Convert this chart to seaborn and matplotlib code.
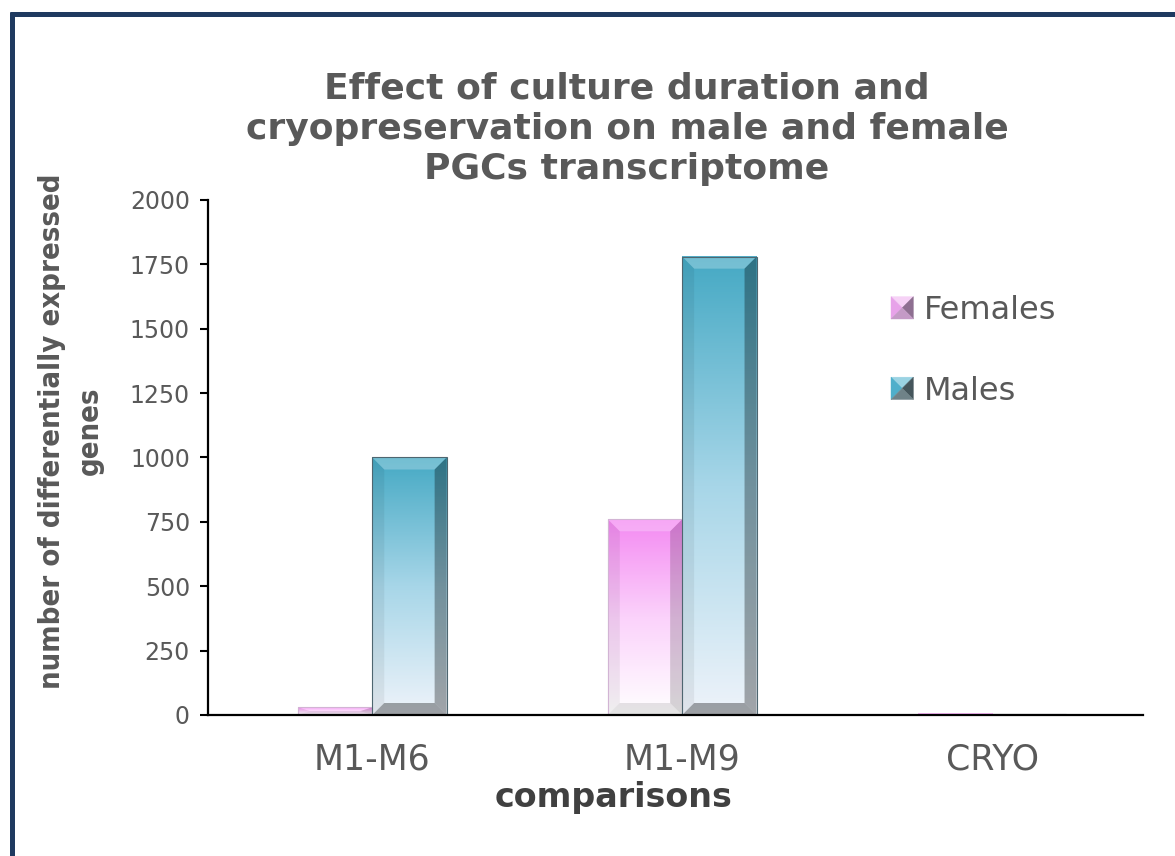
import numpy as np
import pandas as pd
import matplotlib
matplotlib.use("Agg")
import matplotlib.pyplot as plt
import seaborn as sns
from matplotlib import font_manager as fm
from matplotlib.colors import LinearSegmentedColormap
from matplotlib.patches import Polygon, Patch
from matplotlib.lines import Line2D
from matplotlib.legend_handler import HandlerBase

# ---------------- data ----------------
categories = ["M1-M6", "M1-M9", "CRYO"]
series_names = ["Females", "Males"]
females = [30, 760, 4]
males = [1000, 1780, 2]
y_ticks = [0, 250, 500, 750, 1000, 1250, 1500, 1750, 2000]

title = "Effect of culture duration and\ncryopreservation on male and female\nPGCs transcriptome"
y_label = "number of differentially expressed\ngenes"
x_label = "comparisons"

# ---------------- style ----------------
sns.set_theme(style="ticks")
plt.rcParams["font.family"] = ["DejaVu Sans"]

GRAY = "#595959"
NAVY = "#1F3A60"
grad_stops = {
    "Females": ["#FFFFFF", "#FBD2FB", "#F48AF2"],
    "Males": ["#EEF3FA", "#A7D6E8", "#45A9C4"],
}
edge_cols = {"Females": "#D2B4D4", "Males": "#4E6670"}
bottom_alpha = {"Females": 0.10, "Males": 0.34}
right_alpha = {"Females": 0.16, "Males": 0.32}

# condensed font for y label if available
names = {(f.name, f.stretch) for f in fm.fontManager.ttflist}
if any(n == "Liberation Sans Narrow" for n, _ in names):
    ylab_kw = dict(family="Liberation Sans Narrow", fontsize=25)
elif any(n == "DejaVu Sans" and s in ("condensed", "semi-condensed", 300, 400) for n, s in names):
    ylab_kw = dict(family="DejaVu Sans", stretch="condensed", fontsize=21)
else:
    ylab_kw = dict(family="Liberation Sans", fontsize=22)

W, H = 1175, 856
fig = plt.figure(figsize=(W / 100, H / 100), dpi=100)
fig.patch.set_facecolor("white")
ax = fig.add_axes([208 / W, 1 - 715 / H, 935 / W, 515 / H])

df = pd.DataFrame({
    "comparison": categories * 2,
    "genes": females + males,
    "sex": ["Females"] * len(categories) + ["Males"] * len(categories),
})

sns.barplot(data=df, x="comparison", y="genes", hue="sex", order=categories,
            hue_order=series_names, palette=["#F48AF2", "#45A9C4"], width=0.48,
            saturation=1, legend=False, ax=ax, linewidth=0, err_kws={"linewidth": 0})

XLIM = (-0.53, 2.487)
YLIM = (0, 2000)
ax.set_xlim(*XLIM)
ax.set_ylim(*YLIM)

# pixel scale for bevels
px_x = 935 / (XLIM[1] - XLIM[0])
px_y = 515 / (YLIM[1] - YLIM[0])
bev = 12.0

for cont, name in zip(ax.containers, series_names):
    cmap = LinearSegmentedColormap.from_list(name, grad_stops[name])
    for bar in cont.patches:
        x, w, h = bar.get_x(), bar.get_width(), bar.get_height()
        if h <= 0:
            continue
        grad = np.linspace(0, 1, 256).reshape(-1, 1)
        ax.imshow(grad, cmap=cmap, extent=[x, x + w, 0, h], origin="lower",
                  aspect="auto", zorder=3, interpolation="bicubic")
        dx = bev / px_x
        dy = min(bev / px_y, h / 2)
        y1 = h
        top = [(x, y1), (x + w, y1), (x + w - dx, y1 - dy), (x + dx, y1 - dy)]
        bot = [(x, 0), (x + w, 0), (x + w - dx, dy), (x + dx, dy)]
        lef = [(x, 0), (x + dx, dy), (x + dx, y1 - dy), (x, y1)]
        rig = [(x + w, 0), (x + w - dx, dy), (x + w - dx, y1 - dy), (x + w, y1)]
        ax.add_patch(Polygon(top, closed=True, facecolor=(1, 1, 1, 0.25), edgecolor="none", zorder=4))
        ax.add_patch(Polygon(bot, closed=True, facecolor=(0, 0, 0, bottom_alpha[name]), edgecolor="none", zorder=4))
        ax.add_patch(Polygon(lef, closed=True, facecolor=(0, 0, 0, 0.06), edgecolor="none", zorder=4))
        ax.add_patch(Polygon(rig, closed=True, facecolor=(0, 0, 0, right_alpha[name]), edgecolor="none", zorder=4))
        ax.add_patch(Polygon([(x, 0), (x, y1), (x + w, y1), (x + w, 0)], closed=True,
                             facecolor="none", edgecolor=edge_cols[name], linewidth=0.8, zorder=5))

ax.set_xlim(*XLIM)
ax.set_ylim(*YLIM)
ax.set_yticks(y_ticks)
ax.set_yticklabels([str(t) for t in y_ticks])

for s in ["top", "right"]:
    ax.spines[s].set_visible(False)
for s in ["left", "bottom"]:
    ax.spines[s].set_linewidth(1.6)
    ax.spines[s].set_color("black")
    ax.spines[s].set_zorder(10)

ax.tick_params(axis="y", length=6, width=1.5, color="black", pad=7,
               labelsize=17, labelcolor=GRAY)
ax.tick_params(axis="x", length=0, pad=20, labelsize=25, labelcolor=GRAY)
ax.set_facecolor("white")

ax.set_xlabel(x_label, fontsize=24, fontweight="bold", color="#404040")
ax.xaxis.set_label_coords((614 - 208) / 935, (715 - 781) / 515)
ax.set_ylabel(y_label, fontweight="bold", color=GRAY, multialignment="center",
              linespacing=1.45, **ylab_kw)
ax.yaxis.set_label_coords((104 - 208) / 935, (715 - 431) / 515)

fig.text(627 / W, 1 - 129 / H, title, ha="center", va="center", fontsize=26,
         fontweight="bold", color=GRAY, linespacing=1.24)

# legend with pyramid-style bevel icons
class BevelHandler(HandlerBase):
    def __init__(self, cols):
        super().__init__()
        self.cols = cols

    def create_artists(self, legend, orig_handle, xdescent, ydescent, width, height, fontsize, trans):
        s = min(width, height)
        x0 = -xdescent + (width - s) / 2
        y0 = -ydescent + (height - s) / 2
        cx, cy = x0 + s / 2, y0 + s / 2
        c_top, c_left, c_right, c_bot = self.cols
        tris = [
            ([(x0, y0 + s), (x0 + s, y0 + s), (cx, cy)], c_top),
            ([(x0, y0), (x0, y0 + s), (cx, cy)], c_left),
            ([(x0 + s, y0), (x0 + s, y0 + s), (cx, cy)], c_right),
            ([(x0, y0), (x0 + s, y0), (cx, cy)], c_bot),
        ]
        arts = []
        for pts, c in tris:
            p = Polygon(pts, closed=True, facecolor=c, edgecolor=c, linewidth=0.3, transform=trans)
            arts.append(p)
        return arts

h_f = Patch(label="Females")
h_m = Patch(label="Males")
leg = fig.legend(handles=[h_f, h_m], labels=series_names,
                 handler_map={h_f: BevelHandler(["#F6D2F6", "#E7A2E9", "#8E6F91", "#C49AC6"]),
                              h_m: BevelHandler(["#9AD3E3", "#4FAFCB", "#45565C", "#6F8288"])},
                 loc="upper left", bbox_to_anchor=(891 / W, 1 - 295 / H), frameon=False,
                 fontsize=23, handlelength=0.7, handleheight=0.7, handletextpad=0.32,
                 labelspacing=1.55, borderpad=0, borderaxespad=0)
for t in leg.get_texts():
    t.set_color(GRAY)

# outer frame (top and left edges)
fig.add_artist(Line2D([10 / W, 1.0], [1 - 14 / H, 1 - 14 / H], transform=fig.transFigure,
                      color=NAVY, linewidth=3.6, solid_capstyle="butt"))
fig.add_artist(Line2D([12 / W, 12 / W], [0.0, 1 - 12 / H], transform=fig.transFigure,
                      color=NAVY, linewidth=3.6, solid_capstyle="butt"))

fig.savefig("out.png", dpi=100)
